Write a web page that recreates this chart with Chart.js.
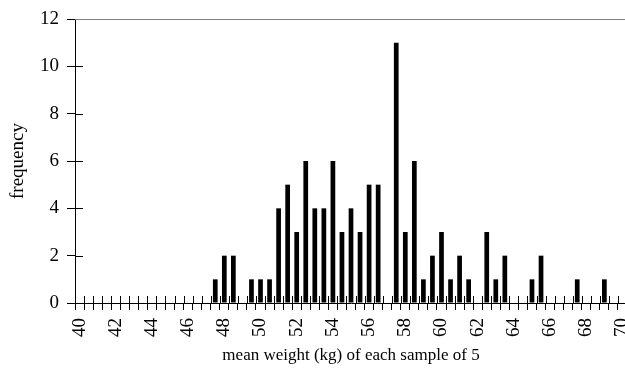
<!DOCTYPE html>
<html>
<head>
<meta charset="utf-8">
<script src="https://cdn.jsdelivr.net/npm/chart.js@4"></script>
<style>
html, body { margin: 0; padding: 0; background: #fff; overflow: hidden; }
#wrap { width: 627px; height: 370px; position: relative; }
</style>
</head>
<body>
<div id="wrap"><canvas id="myChart"></canvas></div>
<script>
const ctx = document.querySelector('#myChart');

// mean weight categories, 0.5 kg steps
const categories = [
    '40', '40.5', '41', '41.5', '42', '42.5', '43', '43.5', '44', '44.5',
    '45', '45.5', '46', '46.5', '47', '47.5', '48', '48.5', '49', '49.5',
    '50', '50.5', '51', '51.5', '52', '52.5', '53', '53.5', '54', '54.5',
    '55', '55.5', '56', '56.5', '57', '57.5', '58', '58.5', '59', '59.5',
    '60', '60.5', '61', '61.5', '62', '62.5', '63', '63.5', '64', '64.5',
    '65', '65.5', '66', '66.5', '67', '67.5', '68', '68.5', '69', '69.5',
    '70'
];

const frequencies = [
    0, 0, 0, 0, 0, 0, 0, 0, 0, 0,
    0, 0, 0, 0, 0, 1, 2, 2, 0, 1,
    1, 1, 4, 5, 3, 6, 4, 4, 6, 3,
    4, 3, 5, 5, 0, 11, 3, 6, 1, 2,
    3, 1, 2, 1, 0, 3, 1, 2, 0, 0,
    1, 2, 0, 0, 0, 1, 0, 0, 1, 0,
    0
];

const tickLabels = ['40', '42', '44', '46', '48', '50', '52', '54', '56', '58', '60', '62', '64', '66', '68', '70'];

const font = "'Liberation Serif', 'Times New Roman', serif";

// tick marks that cross the axes, plus the top frame line
const crossTicks = {
    id: 'crossTicks',
    afterDraw(chart) {
        const c = chart.ctx;
        const x = chart.scales.x;
        const y = chart.scales.y;
        c.save();
        c.lineWidth = 1;
        c.strokeStyle = '#000';
        c.beginPath();
        for (let i = 0; i <= categories.length; i++) {
            const px = Math.round(x.getPixelForValue(i - 0.5)) + 0.5;
            c.moveTo(px, y.bottom - 7);
            c.lineTo(px, y.bottom);
        }
        for (let v = 0; v <= 12; v += 2) {
            const py = Math.round(y.getPixelForValue(v)) + 0.5;
            c.moveTo(x.left, py);
            c.lineTo(x.left + 8, py);
        }
        c.stroke();
        c.strokeStyle = '#808080';
        c.beginPath();
        c.moveTo(x.left, Math.round(y.top) + 0.5);
        c.lineTo(chart.width, Math.round(y.top) + 0.5);
        c.stroke();
        c.restore();
    }
};

new Chart(ctx, {
    type: 'bar',
    data: {
        labels: categories,
        datasets: [{
            data: frequencies,
            backgroundColor: '#000',
            borderWidth: 0,
            barPercentage: 0.52,
            categoryPercentage: 1
        }]
    },
    options: {
        responsive: true,
        maintainAspectRatio: false,
        animation: false,
        layout: { padding: { top: 19, right: 0, left: 0, bottom: 0 } },
        plugins: {
            legend: { display: false },
            tooltip: { enabled: false }
        },
        scales: {
            x: {
                offset: true,
                grid: { offset: true, drawOnChartArea: false, tickLength: 7, color: '#000' },
                border: { color: '#000' },
                afterFit: function (scale) {
                    scale.height = 67;
                    scale.paddingLeft = 0;
                    scale.paddingRight = 0;
                },
                ticks: {
                    autoSkip: false,
                    minRotation: 90,
                    maxRotation: 90,
                    color: '#000',
                    padding: 8,
                    font: { family: font, size: 19 },
                    callback: function (value) {
                        const label = categories[value];
                        return tickLabels.includes(label) ? label : '';
                    }
                },
                title: {
                    display: true,
                    text: 'mean weight (kg) of each sample of 5',
                    color: '#000',
                    padding: { top: 4, bottom: 4 },
                    font: { family: font, size: 17 }
                }
            },
            y: {
                min: 0,
                max: 12,
                afterFit: function (scale) {
                    scale.width = 75;
                    scale.paddingTop = 0;
                    scale.paddingBottom = 0;
                },
                ticks: { stepSize: 2, color: '#000', padding: 8, font: { family: font, size: 19 } },
                grid: { drawOnChartArea: false, tickLength: 8, color: '#000' },
                border: { color: '#000' },
                title: {
                    display: true,
                    text: 'frequency',
                    color: '#000',
                    padding: { top: 7, bottom: 7 },
                    font: { family: font, size: 19 }
                }
            }
        }
    },
    plugins: [crossTicks]
});
</script>
</body>
</html>
